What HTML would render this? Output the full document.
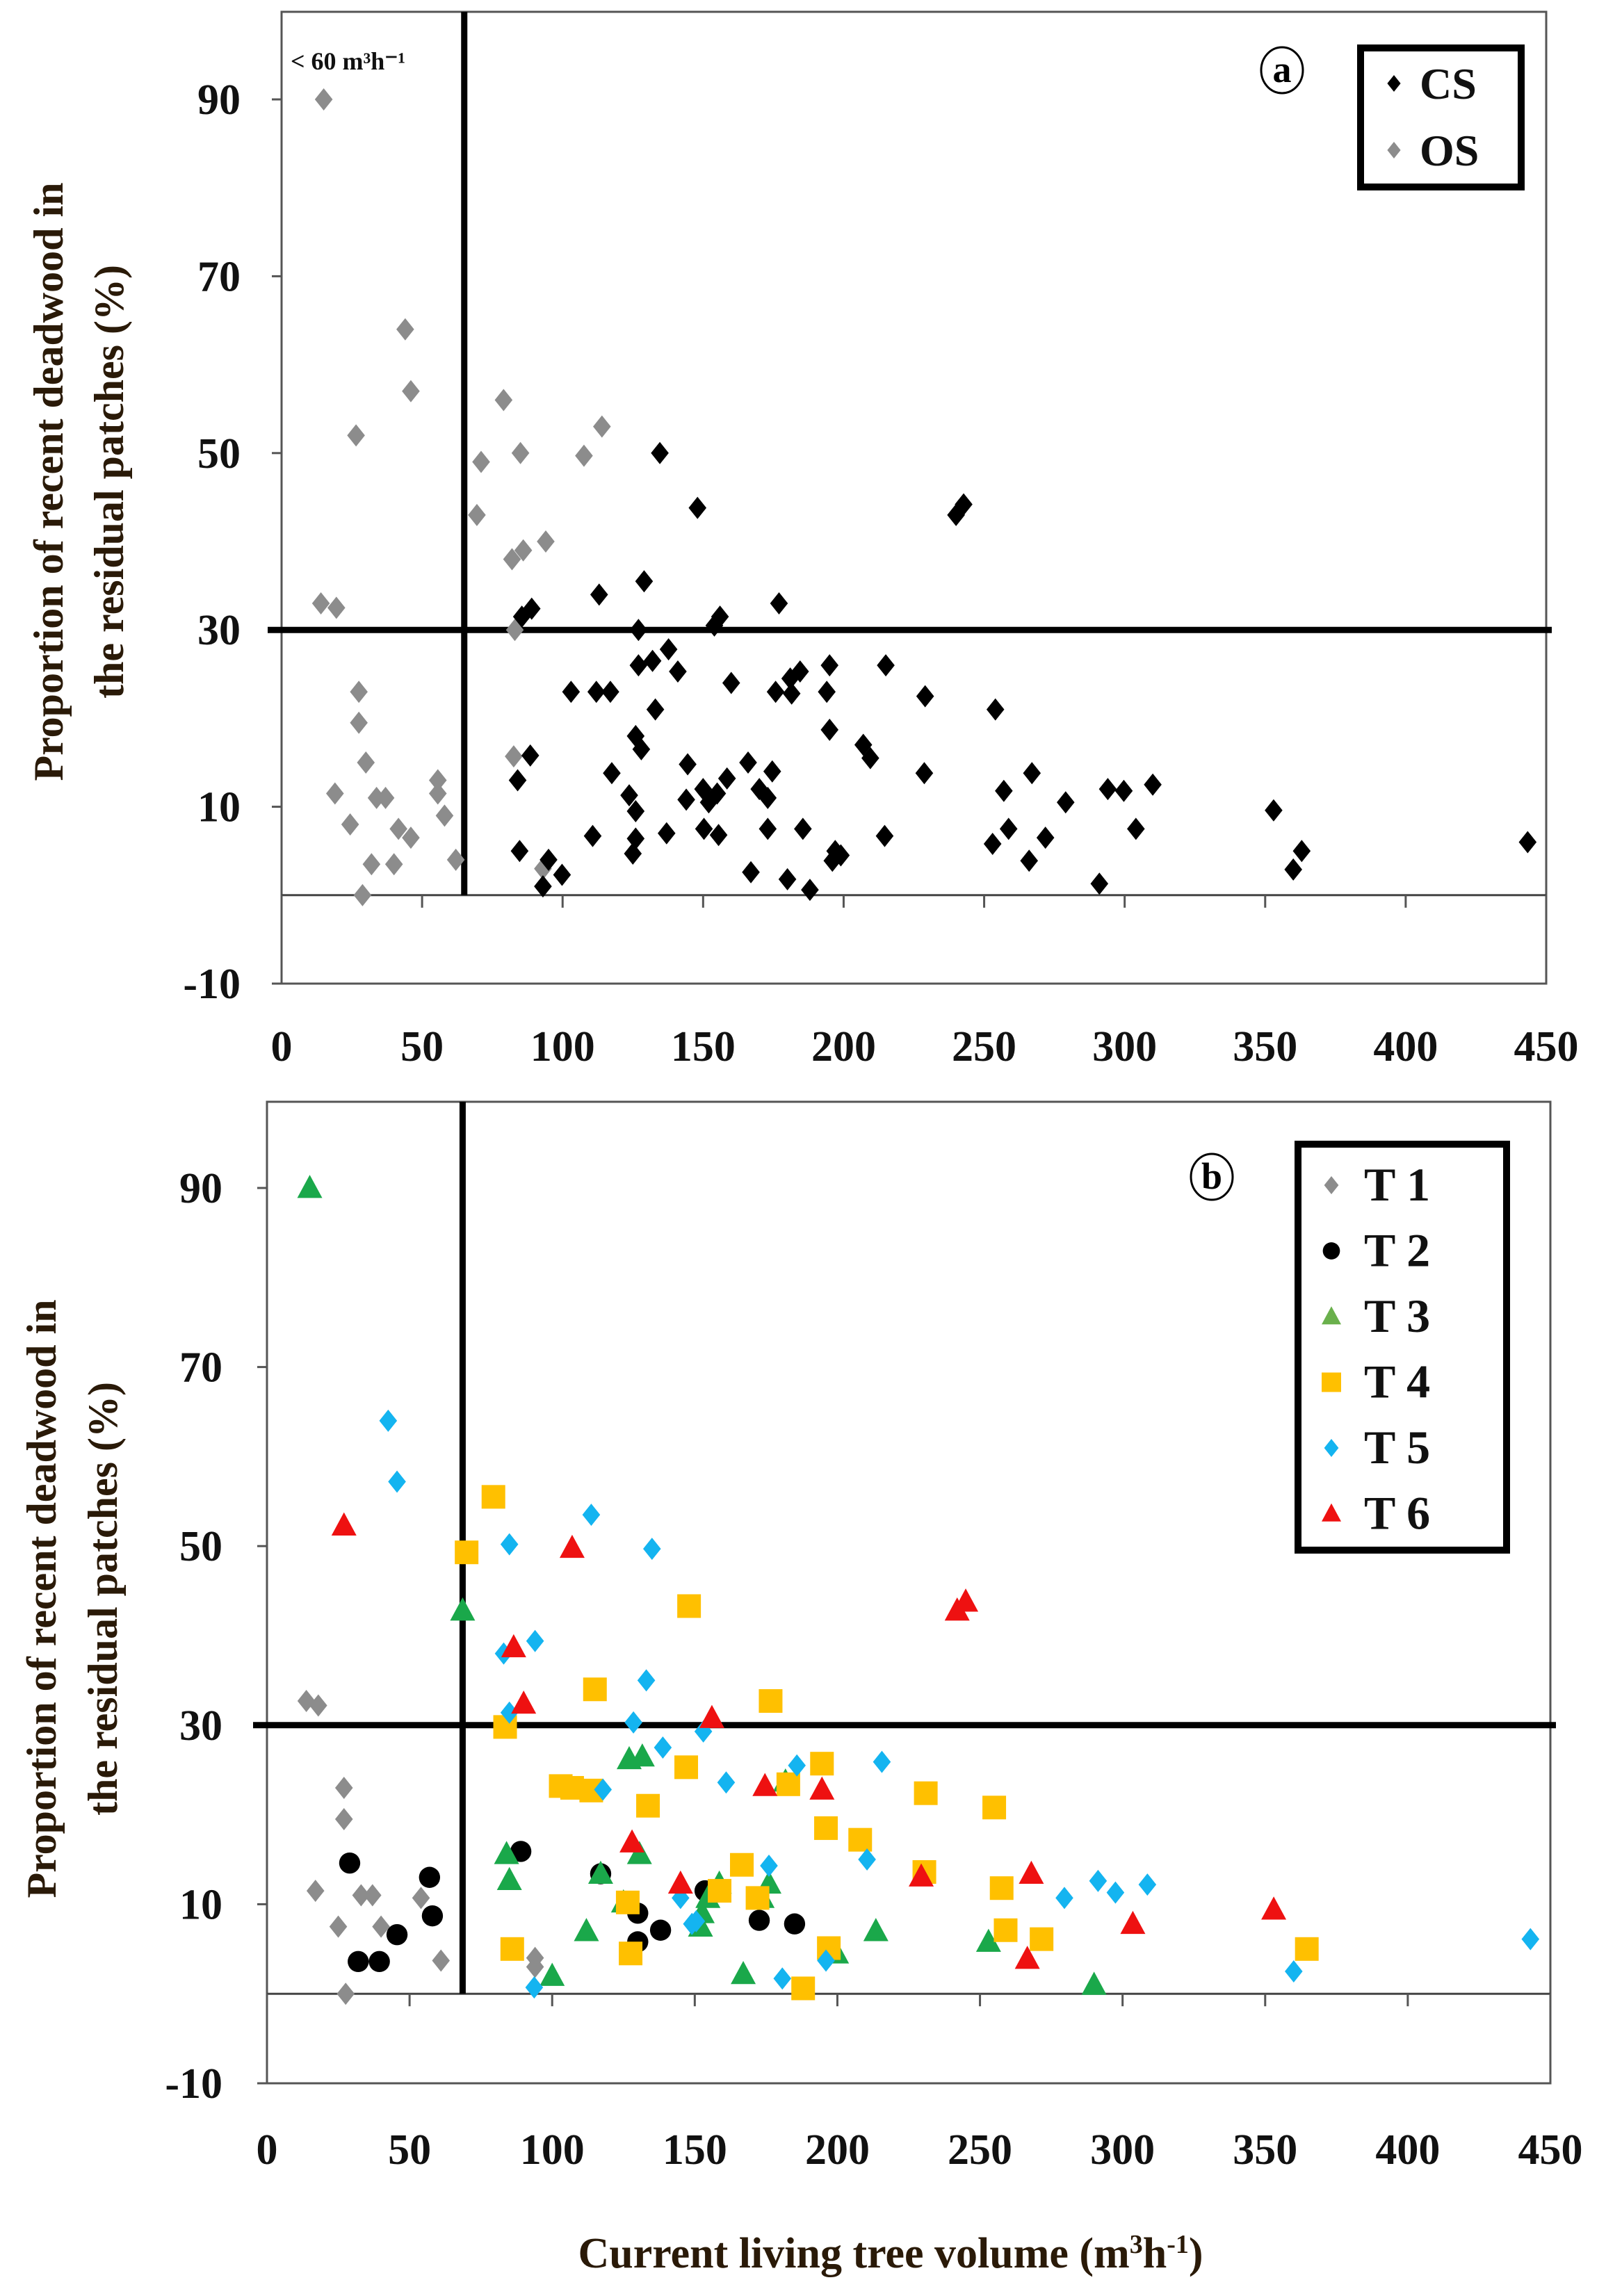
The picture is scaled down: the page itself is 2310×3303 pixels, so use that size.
<!DOCTYPE html>
<html><head><meta charset="utf-8">
<style>
html,body{margin:0;padding:0;background:#fff;}
svg{display:block;}
text{font-family:"Liberation Serif",serif;font-weight:bold;}
</style></head>
<body>
<svg id="chart" width="2310" height="3303" viewBox="0 0 2310 3303" xmlns="http://www.w3.org/2000/svg"></svg>
<script>
// ---------- DATA ----------
const xTicks = [0,50,100,150,200,250,300,350,400,450];
const yTicks = [90,70,50,30,10,-10];
const thresholdX_a = 65;
const thresholdX_b = 68.6;
const thresholdY = 30;

const csX = [134.6,148,240,242.7,129,113,177,89,85.5,127,154,156,132,127,137.7,141,103,112,117,160,175.8,181,184.5,195,181.5,194,215,229,254,133,195,207,209.5,126,128,88.5,117.5,144.5,158.5,166,174.6,170,173,150,152,155,144,123.7,126,228.7,257,267,279,294,299.7,310,84,150.3,155.5,137,185.5,173,110.7,126,125,84.7,214.6,253,258.7,271.8,266,304,353,363,360,443.4,197,196,199,95,99.8,93,167,180,188,291];
const csY = [50,43.8,43,44.2,35.5,34,33,32.4,31.5,30,30.5,31.5,26.5,26,27.8,25.3,23,23,23,24,23,24.5,25.3,26,22.8,23,26,22.5,21,21,18.7,17,15.5,18,16.5,15.8,13.8,14.8,13.2,15,14,12,11,12,10.5,11.5,10.8,11.3,9.5,13.8,11.8,13.8,10.5,12,11.8,12.5,13,7.5,6.8,7,7.5,7.5,6.7,6.4,4.7,5,6.7,5.8,7.5,6.5,3.9,7.5,9.6,5,2.9,6,5,3.9,4.5,4,2.3,1,2.6,1.8,0.6,1.3];
const osX = [15,44,46,26.5,79,71,85,107.6,114,69.5,82,86,94,14,19.5,27.5,27.5,30,19,33.8,37,55.6,55.6,58,41.6,46,24.4,32,40,62,28.8,82.6,83,93];
const osY = [90,64,57,52,56,49,50,49.7,53,43,38,39,40,33,32.5,23,19.5,15,11.5,11,11,11.5,13,9,7.5,6.5,8,3.5,3.5,4,0,15.7,30,3];

const t1X = [13.8,18,27,27,17,33,37,25,40,54,61,94,94,27.6];
const t1Y = [32.7,32.2,23,19.5,11.5,11,11,7.5,7.5,10.7,3.7,4,3,0];
const t2X = [29,57,58,45.6,32,39.4,89,117,130,130,138,153.6,172.6,185];
const t2Y = [14.6,13,8.7,6.6,3.6,3.6,15.9,13.4,9,5.8,7.1,11.5,8.2,7.8];
const t3X = [15,68.6,84,85,100,112,117,125,127,131.6,130.6,152.6,152,158.6,154.6,167,173.6,176,181.8,199.7,213.5,253,290];
const t3Y = [90,42.8,15.6,12.7,2,7,13.4,10.2,26.2,26.5,15.6,9,7.5,12.3,10.7,2.2,10.7,12.3,23.7,4.5,7,5.8,1];
const t4X = [79.4,70,148,115,176.6,83.5,103,107,113.7,133.6,147,182.8,194.6,196,208,231,255,230.5,257.6,126.5,158.7,166.5,172,259,271.6,86,127.5,197,188,364.6];
const t4Y = [55.5,49.3,43.3,34,32.7,29.8,23.2,23,22.7,21,25.3,23.4,25.7,18.5,17.2,22.4,20.8,13.6,11.8,10.2,11.5,14.4,10.7,7.1,6.1,5,4.5,5.1,0.6,5];
const t5X = [42.5,45.6,113.7,85,135,83,94,133,85,128.5,153,138.8,185.8,215.6,161,117.8,210.4,176,279.6,291.4,297.5,308.7,145,149,150.5,196,180.7,93.7,360,443];
const t5Y = [64,57.2,53.5,50.2,49.7,38,39.4,35,31.4,30.3,29.3,27.5,25.5,25.9,23.6,22.8,15,14.3,10.7,12.6,11.3,12.2,10.7,7.8,8.1,3.7,1.7,0.7,2.5,6.1];
const t6X = [27,107,86.5,90,156,242,245,174.6,194.6,128,145,229.4,268,353,303.6,266.6];
const t6Y = [52.3,49.8,38.7,32.4,30.8,42.8,43.8,23.2,22.8,16.9,12.3,13.1,13.4,9.4,7.8,3.9];

// ---------- DRAWING ----------
const NS = "http://www.w3.org/2000/svg";
const svg = document.getElementById('chart');
function mk(tag, attrs, parent){
  const e = document.createElementNS(NS, tag);
  for (const k in attrs) e.setAttribute(k, attrs[k]);
  (parent||svg).appendChild(e);
  return e;
}
function marker(g, kind, cx, cy, color, s){
  let e;
  if (kind==='diamond') e = mk('polygon',{points:`${cx},${cy-s} ${cx+s*0.8},${cy} ${cx},${cy+s} ${cx-s*0.8},${cy}`,fill:color},g);
  else if (kind==='circle') e = mk('circle',{cx:cx,cy:cy,r:s*0.95,fill:color},g);
  else if (kind==='triangle') e = mk('polygon',{points:`${cx},${cy-s*1.05} ${cx+s},${cy+s*0.8} ${cx-s},${cy+s*0.8}`,fill:color},g);
  else e = mk('rect',{x:cx-s,y:cy-s,width:2*s,height:2*s,fill:color},g);
  return e;
}

function panel(cfg){
  const {id,L,R,T,B,y90,yM10,thrX,labelRight,xLabelY,titleX1,titleX2,titleCY} = cfg;
  const g = mk('g',{});
  
  
  const sx = v => L + (v/450)*(R-L);
  const sy = v => y90 + (90 - v)/100*(yM10 - y90);
  mk('rect',{x:L,y:T,width:R-L,height:B-T,fill:'none',stroke:'#555',"stroke-width":3},g);
  yTicks.forEach(v=>{
    mk('line',{x1:L-14,x2:L,y1:sy(v),y2:sy(v),stroke:'#555',"stroke-width":3},g);
    const t = mk('text',{x:labelRight,y:sy(v)+21,"text-anchor":'end',"font-size":62,fill:'#111'},g);
    t.textContent = v;
    
    
  });
  mk('line',{x1:L,x2:R,y1:sy(0),y2:sy(0),stroke:'#444',"stroke-width":3},g);
  xTicks.forEach(v=>{
    mk('line',{x1:sx(v),x2:sx(v),y1:sy(0),y2:sy(0)+18,stroke:'#555',"stroke-width":3},g);
    const t = mk('text',{x:sx(v),y:xLabelY,"text-anchor":'middle',"font-size":62,fill:'#111'},g);
    t.textContent = v;
    
    
  });
  const vl = mk('line',{x1:sx(thrX),x2:sx(thrX),y1:T,y2:sy(0),stroke:'#000',"stroke-width":9},g);
  
  
  const hl = mk('line',{x1:L-20,x2:R+8,y1:sy(thresholdY),y2:sy(thresholdY),stroke:'#000',"stroke-width":9},g);
  
  
  const t1 = mk('text',{x:0,y:0,"text-anchor":'middle',"font-size":60,fill:'#2a1a08',transform:`translate(${titleX1},${titleCY}) rotate(-90)`},g);
  t1.textContent = 'Proportion of recent deadwood in';
  
  
  const t2 = mk('text',{x:0,y:0,"text-anchor":'middle',"font-size":60,fill:'#2a1a08',transform:`translate(${titleX2},${titleCY}) rotate(-90)`},g);
  t2.textContent = 'the residual patches (%)';
  
  
  return {g,sx,sy};
}
function series(p, xs, ys, kind, color, s, name){
  const g = mk('g',{},p.g);
  
  
  xs.forEach((x,i)=>{
    const m = marker(g, kind, p.sx(x), p.sy(ys[i]), color, s);
    
    
  });
}
function legend(x,y,w,h,entries,name,cy0,rowH,fs){
  const g = mk('g',{});
  
  
  mk('rect',{x:x,y:y,width:w,height:h,fill:'#fff',stroke:'#000',"stroke-width":10},g);
  entries.forEach((e,i)=>{
    const cy = cy0 + i*rowH;
    marker(g, e.kind, x+48, cy, e.color, e.s);
    const t = mk('text',{x:x+(e.tx||95),y:cy+22,"font-size":fs,fill:'#111'},g);
    t.textContent = e.label;
    
    
  });
}
function circled(cx,cy,letter,name){
  const g = mk('g',{});
  
  
  mk('ellipse',{cx:cx,cy:cy,rx:30,ry:33,fill:'none',stroke:'#000',"stroke-width":3},g);
  const t = mk('text',{x:cx,y:cy+17,"text-anchor":'middle',"font-size":54,fill:'#000'},g);
  t.textContent = letter;
}

// Panel a
const pa = panel({id:'panel-a',L:405,R:2224,T:17,B:1415,y90:143,yM10:1415,thrX:thresholdX_a,labelRight:346,xLabelY:1526,titleX1:90,titleX2:177,titleCY:693});
series(pa, osX, osY, 'diamond', '#8c8c8c', 16, 'os-series');
series(pa, csX, csY, 'diamond', '#000', 16, 'cs-series');
legend(1957,69,231,200,[{kind:'diamond',color:'#000',s:12,label:'CS',tx:85},{kind:'diamond',color:'#8c8c8c',s:12,label:'OS',tx:85}],'legend-a',120,96,64);
circled(1844,101,'a','panel-label-a');
const note = mk('text',{x:418,y:100,"font-size":36,fill:'#111'});
note.textContent = '< 60 m³h⁻¹';



// Panel b
const pb = panel({id:'panel-b',L:384,R:2230,T:1585,B:2997,y90:1709,yM10:2997,thrX:thresholdX_b,labelRight:320,xLabelY:3113,titleX1:80,titleX2:168,titleCY:2300});
series(pb, t1X, t1Y, 'diamond', '#8c8c8c', 16, 't1-series');
series(pb, t2X, t2Y, 'circle', '#000', 16, 't2-series');
series(pb, t3X, t3Y, 'triangle', '#1aa84a', 18, 't3-series');
series(pb, t4X, t4Y, 'square', '#ffc000', 17, 't4-series');
series(pb, t5X, t5Y, 'diamond', '#14b4f0', 16, 't5-series');
series(pb, t6X, t6Y, 'triangle', '#ee1111', 18, 't6-series');
legend(1867,1646,300,584,[
 {kind:'diamond',color:'#8c8c8c',s:13,label:'T 1'},
 {kind:'circle',color:'#000',s:13,label:'T 2'},
 {kind:'triangle',color:'#6ab04c',s:14,label:'T 3'},
 {kind:'square',color:'#ffc000',s:14,label:'T 4'},
 {kind:'diamond',color:'#14b4f0',s:13,label:'T 5'},
 {kind:'triangle',color:'#ee1111',s:14,label:'T 6'}],'legend-b',1705,94.5,68);
circled(1743,1693,'b','panel-label-b');

const xt = mk('text',{x:1281,y:3262,"text-anchor":'middle',"font-size":62,fill:'#2a1a08'});
xt.innerHTML = 'Current living tree volume (m<tspan baseline-shift="super" font-size="38">3</tspan>h<tspan baseline-shift="super" font-size="38">-1</tspan>)';


</script>
</body></html>
